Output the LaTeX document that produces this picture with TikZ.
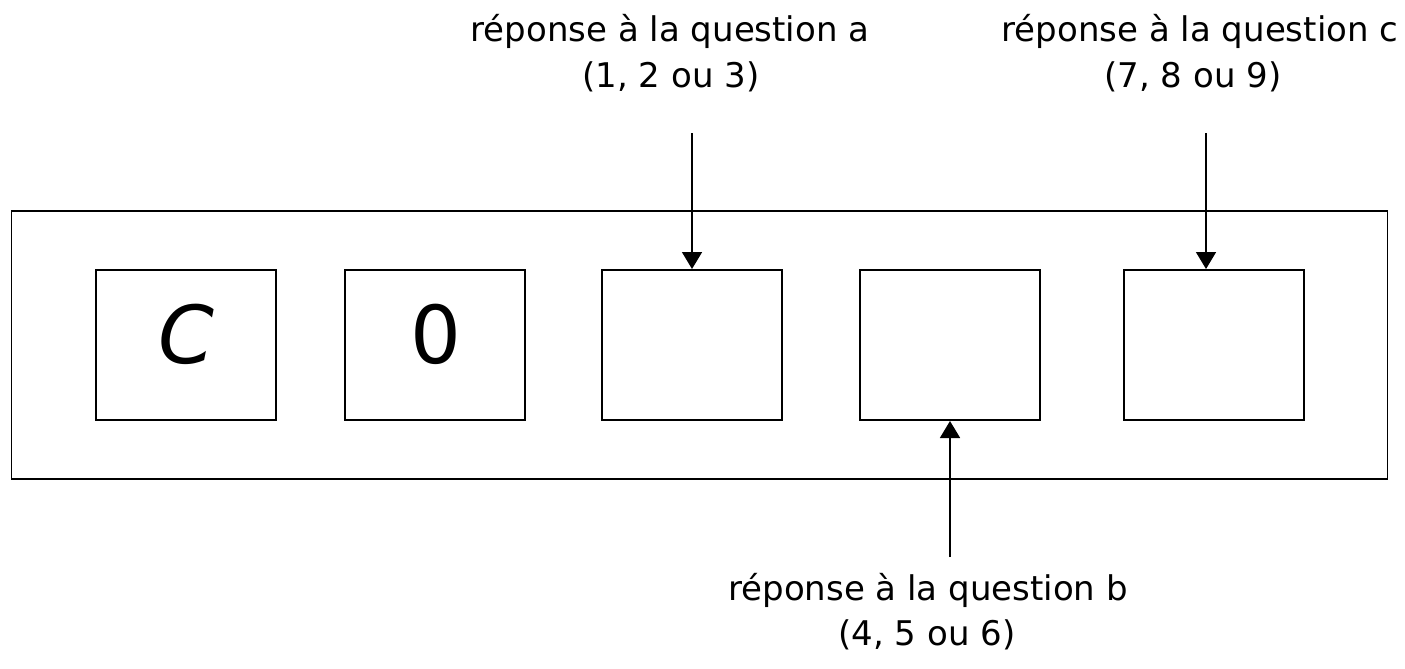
\documentclass[tikz,border=0pt]{standalone}
\usepackage{fontspec}
\setmainfont{DejaVu Sans}
\usetikzlibrary{arrows.meta}
\begin{document}
\begin{tikzpicture}[x=1pt,y=-1pt,
  outerbox/.style={draw, line width=1.6pt},
  cellbox/.style={draw, line width=2pt},
  ptr/.style={line width=1.6pt, -{Triangle[width=20pt,length=17pt]}},
  lab/.style={align=center, font=\fontsize{34}{46}\selectfont, inner sep=0pt, anchor=base},
  big/.style={font=\fontsize{80}{90}\selectfont, anchor=base}]
\useasboundingbox (0,0) rectangle (1405,669);
\node[outerbox, minimum width=1376pt, minimum height=268pt, inner sep=0pt] (outer) at (699.5,345) {};
\foreach \n/\x in {b1/186, b2/435, b3/692, b4/950, b5/1214}
  \node[cellbox, minimum width=180pt, minimum height=150pt, inner sep=0pt] (\n) at (\x,345) {};
\node[big] (tc) at (186,363) {\textit{C}};
\node[big] (t0) at (436,363) {0};
\node[lab] (la) at (670,42) {réponse à la question a};
\node[lab] (la2) at (671,88) {(1, 2 ou 3)};
\node[lab] (lc) at (1200,42) {réponse à la question c};
\node[lab] (lc2) at (1193,88) {(7, 8 ou 9)};
\node[lab] (lb) at (928,600) {réponse à la question b};
\node[lab] (lb2) at (927,645) {(4, 5 ou 6)};
\coordinate (sa) at (692,133);
\coordinate (sc) at (1206,133);
\coordinate (sb) at (950,557);
\draw[ptr] (sa) -- (sa |- b3.north);
\draw[ptr] (sc) -- (sc |- b5.north);
\draw[ptr] (sb) -- (sb |- b4.south);
\end{tikzpicture}
\end{document}
